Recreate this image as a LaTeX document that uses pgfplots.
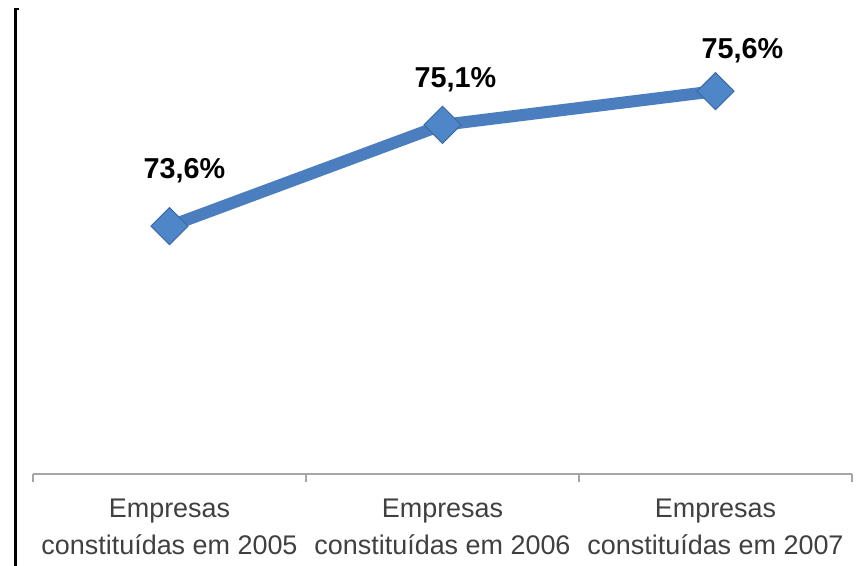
\documentclass[border=0pt]{standalone}
\usepackage{pgfplots}
\pgfplotsset{compat=1.18}
\usepackage{fontspec}
\setmainfont{Liberation Sans}
\definecolor{serie}{HTML}{4A7EBF}
\definecolor{markfill}{HTML}{4F86C8}
\definecolor{markdraw}{HTML}{3A6AA8}
\definecolor{axgray}{HTML}{A6A6A6}
\definecolor{txtgray}{HTML}{404040}
\begin{document}
\begin{tikzpicture}
\useasboundingbox (0,0) rectangle (645.75pt,424.5pt);
\draw[black, line width=2.2pt] (11.5pt,0) -- (11.5pt,417.75pt) -- (14pt,417.75pt);
\begin{axis}[
  at={(24.75pt,69pt)}, anchor=south west,
  scale only axis, width=614.25pt, height=355.5pt,
  xmin=-0.5, xmax=2.5, ymin=69.93, ymax=76.95,
  axis x line=bottom, axis y line=none,
  x axis line style={-, draw=axgray, line width=1.1pt},
  xtick={-0.5,0.5,1.5,2.5}, xticklabels={},
  major tick length=6pt,
  tick align=outside,
  x tick style={draw=axgray, line width=1pt},
  extra x ticks={0,1,2},
  extra x tick labels={{Empresas\\constituídas em 2005},{Empresas\\constituídas em 2006},{Empresas\\constituídas em 2007}},
  extra x tick style={major tick length=0pt, tick style={draw=none},
    xticklabel style={align=center, text=txtgray, font=\fontsize{20.2}{27.5}\selectfont, yshift=-15.5pt}},
  clip=false,
]
\addplot[color=serie, line width=9pt, mark=square*, mark size=9.8pt,
  mark options={rotate=45, fill=markfill, draw=markdraw, line width=0.8pt}]
  coordinates {(0,73.6) (1,75.1) (2,75.6)};
\addplot[draw=none, nodes near coords={73,6\%},
  every node near coord/.style={anchor=center, xshift=11.25pt, yshift=42pt, font=\fontsize{21.6}{24}\selectfont\bfseries, text=black}]
  coordinates {(0,73.6)};
\addplot[draw=none, nodes near coords={75,1\%},
  every node near coord/.style={anchor=center, xshift=9.75pt, yshift=33.75pt, font=\fontsize{21.6}{24}\selectfont\bfseries, text=black}]
  coordinates {(1,75.1)};
\addplot[draw=none, nodes near coords={75,6\%},
  every node near coord/.style={anchor=center, xshift=20.25pt, yshift=30pt, font=\fontsize{21.6}{24}\selectfont\bfseries, text=black}]
  coordinates {(2,75.6)};
\end{axis}
\end{tikzpicture}
\end{document}
